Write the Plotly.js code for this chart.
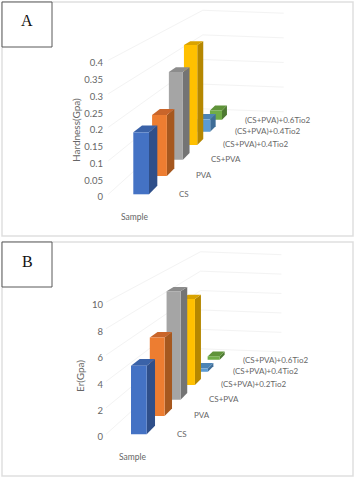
<!DOCTYPE html>
<html>
<head>
<meta charset="UTF-8">
<script src="https://cdn.plot.ly/plotly-3.0.1.min.js"></script>
<style>
	body { margin: 0; background: #fff; }
	#plot { width: 355px; height: 480px; }
</style>
</head>
<body>
<div id="plot"></div>
<script>
	// values
	var categoriesA = ['CS', 'PVA', 'CS+PVA', '(CS+PVA)+0.4Tio2', '(CS+PVA)+0.4Tio2', '(CS+PVA)+0.6Tio2'];
	var categoriesB = ['CS', 'PVA', 'CS+PVA', '(CS+PVA)+0.2Tio2', '(CS+PVA)+0.4Tio2', '(CS+PVA)+0.6Tio2'];
	var hardness = [0.185, 0.193, 0.293, 0.352, 0.046, 0.036];
	var er = [5.2, 6.3, 9.2, 7.7, 0.3, 0.33];
	var ticksA = [0, 0.05, 0.1, 0.15, 0.2, 0.25, 0.3, 0.35, 0.4];
	var ticksB = [0, 2, 4, 6, 8, 10];

	// bar colours: front, side, top
	var frontColors = ['#4472C4', '#ED7D31', '#A5A5A5', '#FFC000', '#5B9BD5', '#70AD47'];
	var sideColors = ['#2F4F8A', '#A6581F', '#747474', '#B58700', '#3F6D97', '#4E7A32'];
	var topColors = ['#3A62A8', '#C9652A', '#8C8C8C', '#D9A300', '#4D84B5', '#5F9339'];

	// where the category labels go (px), left edges come from the picture
	var labelLeft = [177, 194, 209, 221, 233, 243];
	var labelTop = [194, 175, 159, 144, 131, 120];

	var textColor = '#666666';
	var fontName = 'Lato, sans-serif';
	var barWidth = 15.7;
	var barDepth = 0.45;
	var k = 0.06;

	var traces = [];
	var annotations = [];
	var shapes = [];

	// fake perspective, everything runs towards one vanishing point
	function scaleAt(d)
	{
		return 1 / (1 + k * d);
	}

	function project(x0, ppu, u, d, h)
	{
		var s = scaleAt(d);
		return {
			x: x0 + 332 - (332 - u) * s,
			y: (323 * (1 - s) + 2.7) / ppu + h * s
		};
	}

	function addFace(xa, ya, color, corners)
	{
		traces.push({
			x: corners.map(function(c) { return c.x; }),
			y: corners.map(function(c) { return c.y; }),
			xaxis: xa,
			yaxis: ya,
			type: 'scatter',
			mode: 'lines',
			fill: 'toself',
			fillcolor: color,
			line: { width: 0 },
			hoverinfo: 'skip',
			showlegend: false
		});
	}

	function addPanel(values, ticks, cats, x0, ppu, xa, ya, dy)
	{
		// faint gridlines on the walls
		var gridX = [];
		var gridY = [];
		ticks.forEach(function(t, i)
		{
			if(ppu > 100 && i % 2 == 1) return;
			var a = project(x0, ppu, -25, 0, t);
			var b = project(x0, ppu, -25, 6, t);
			var c = project(x0, ppu, 85, 6, t - 4 / ppu);
			gridX.push(a.x, b.x, c.x, null);
			gridY.push(a.y, b.y, c.y, null);
		});
		traces.push({
			x: gridX, y: gridY, xaxis: xa, yaxis: ya,
			type: 'scatter', mode: 'lines',
			line: { color: '#f3f3f3', width: 1 },
			hoverinfo: 'skip', showlegend: false
		});

		// back to front so the near bars cover the far ones
		for(var i = values.length - 1; i >= 0; i--)
		{
			var v = values[i];
			var d2 = i + barDepth;
			addFace(xa, ya, sideColors[i], [
				project(x0, ppu, barWidth, i, 0), project(x0, ppu, barWidth, d2, 0),
				project(x0, ppu, barWidth, d2, v), project(x0, ppu, barWidth, i, v)
			]);
			addFace(xa, ya, topColors[i], [
				project(x0, ppu, 0, i, v), project(x0, ppu, barWidth, i, v),
				project(x0, ppu, barWidth, d2, v), project(x0, ppu, 0, d2, v)
			]);
			addFace(xa, ya, frontColors[i], [
				project(x0, ppu, 0, i, 0), project(x0, ppu, barWidth, i, 0),
				project(x0, ppu, barWidth, i, v), project(x0, ppu, 0, i, v)
			]);
		}

		cats.forEach(function(name, i)
		{
			annotations.push({
				text: name, xref: 'paper', yref: 'paper',
				x: (labelLeft[i] + (x0 - 133.3)) / 355, y: 1 - (labelTop[i] + dy) / 480,
				xanchor: 'left', yanchor: 'middle', showarrow: false,
				font: { family: fontName, size: 8, color: textColor }
			});
		});
		annotations.push({
			text: 'Sample', xref: 'paper', yref: 'paper',
			x: (135 + (x0 - 133.3)) / 355, y: 1 - (217 + dy) / 480,
			xanchor: 'center', yanchor: 'middle', showarrow: false,
			font: { family: fontName, size: 8.5, color: textColor }
		});
	}

	function addFrame(letter, top, bottom)
	{
		shapes.push({
			type: 'rect', xref: 'paper', yref: 'paper', layer: 'below',
			x0: 2 / 355, x1: 353 / 355, y0: 1 - bottom / 480, y1: 1 - top / 480,
			line: { color: '#dfdfdf', width: 1.5 }, fillcolor: '#ffffff'
		});
		shapes.push({
			type: 'rect', xref: 'paper', yref: 'paper', layer: 'above',
			x0: 2 / 355, x1: 52 / 355, y0: 1 - (top + 45) / 480, y1: 1 - top / 480,
			line: { color: '#595959', width: 1 }, fillcolor: '#ffffff'
		});
		annotations.push({
			text: letter, xref: 'paper', yref: 'paper',
			x: 27 / 355, y: 1 - (top + 19) / 480,
			xanchor: 'center', yanchor: 'middle', showarrow: false,
			font: { family: 'Liberation Serif, serif', size: 16, color: '#111111' }
		});
	}

	function yTitle(text, x, y)
	{
		annotations.push({
			text: text, xref: 'paper', yref: 'paper',
			x: x / 355, y: 1 - y / 480, textangle: -90,
			xanchor: 'center', yanchor: 'middle', showarrow: false,
			font: { family: fontName, size: 10, color: textColor }
		});
	}

	var ppuA = 335;
	var ppuB = 13.2;

	addFrame('A', 2, 236);
	addFrame('B', 242, 476);
	addPanel(hardness, ticksA, categoriesA, 133.3, ppuA, 'x', 'y', 0);
	addPanel(er, ticksB, categoriesB, 131, ppuB, 'x2', 'y2', 240);
	yTitle('Hardness(Gpa)', 76, 130);
	yTitle('Er(Gpa)', 80, 376);

	function valueAxis(ticks, anchorAxis, domTop, domBottom, zeroPx, ppu)
	{
		return {
			domain: [1 - domBottom / 480, 1 - domTop / 480],
			range: [-(domBottom - zeroPx) / ppu, (zeroPx - domTop) / ppu],
			tickmode: 'array',
			tickvals: ticks,
			ticktext: ticks.map(String),
			showgrid: false,
			zeroline: false,
			showline: false,
			ticks: '',
			anchor: 'free',
			position: 103 / 355,
			tickfont: { family: fontName, size: 9.5, color: textColor }
		};
	}

	function pixelAxis(domainAxis)
	{
		return { range: [0, 355], domain: [0, 1], visible: false, anchor: domainAxis };
	}

	var layout = {
		width: 355,
		height: 480,
		margin: { l: 0, r: 0, t: 0, b: 0 },
		paper_bgcolor: '#ffffff',
		plot_bgcolor: 'rgba(0,0,0,0)',
		showlegend: false,
		xaxis: pixelAxis('y'),
		xaxis2: pixelAxis('y2'),
		yaxis: valueAxis(ticksA, 'x', 3, 236, 197, ppuA),
		yaxis2: valueAxis(ticksB, 'x2', 243, 476, 437, ppuB),
		shapes: shapes,
		annotations: annotations
	};

	Plotly.newPlot('plot', traces, layout, { displayModeBar: false, staticPlot: true });
</script>
</body>
</html>
